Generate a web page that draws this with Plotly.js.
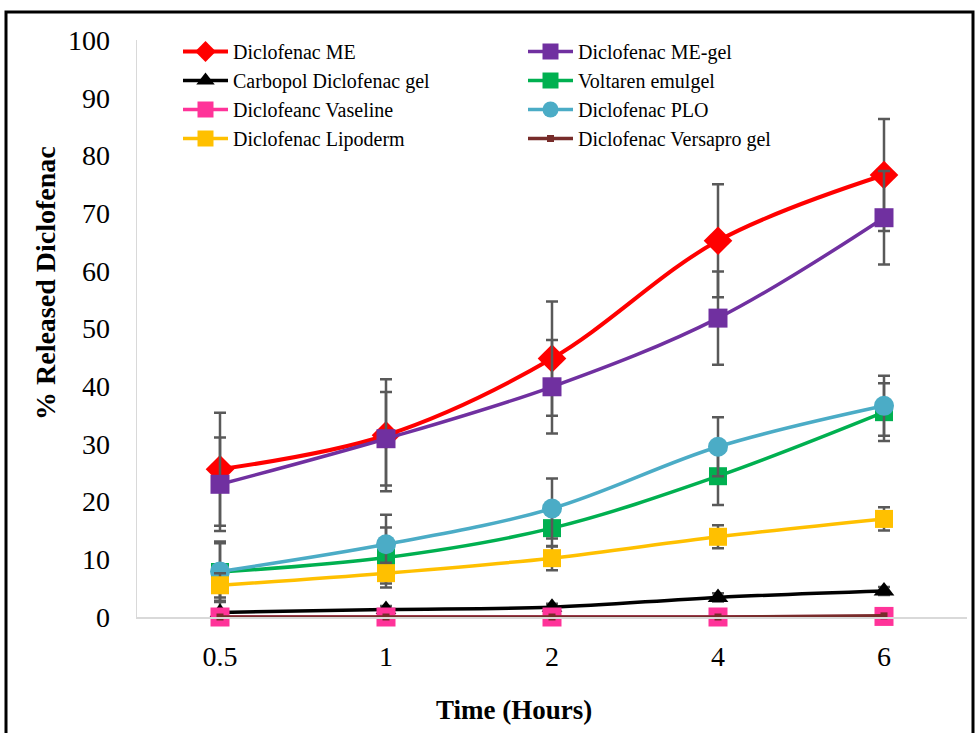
<!DOCTYPE html>
<html>
<head>
<meta charset="utf-8">
<script src="https://cdn.plot.ly/plotly-3.0.1.min.js"></script>
<style>
  html, body { margin: 0; padding: 0; background: #ffffff; }
  #chart { width: 975px; height: 733px; }
</style>
</head>
<body>
<div id="chart"></div>
<script>
// ---- Data ----
const timeLabels = ['0.5', '1', '2', '4', '6'];

const meValues       = [25.6, 31.5, 44.8, 65.2, 76.6];
const meErrors       = [9.8, 9.7, 9.9, 9.8, 9.7];

const meGelValues    = [23.0, 30.9, 39.9, 51.8, 69.2];
const meGelErrors    = [8.1, 8.1, 8.1, 8.1, 8.1];

const carbopolValues = [0.8, 1.3, 1.7, 3.4, 4.5];
const carbopolErrors = [1.8, 0.6, 0.6, 0.7, 0.7];

const voltarenValues = [7.8, 10.3, 15.4, 24.4, 35.5];
const voltarenErrors = [5.0, 5.2, 3.2, 5.0, 5.0];

const vaselineValues = [0, 0, 0, 0, 0.1];

const ploValues      = [7.9, 12.6, 18.8, 29.5, 36.6];
const ploErrors      = [5.2, 5.1, 5.2, 5.1, 5.2];

const lipodermValues = [5.5, 7.6, 10.2, 13.9, 17.0];
const lipodermErrors = [2.1, 1.8, 2.1, 2.0, 2.0];

const versaproValues = [0, 0, 0, 0, 0.2];

const seriesNames = [
  'Diclofenac ME', 'Diclofenac ME-gel', 'Carbopol Diclofenac gel', 'Voltaren emulgel',
  'Diclofeanc Vaseline', 'Diclofenac PLO', 'Diclofenac Lipoderm', 'Diclofenac Versapro gel'
];

// ---- Styling ----
const FONT = 'Liberation Serif, Times New Roman, serif';
const ERR_COLOR = '#595959';

function errBar(arr) {
  return { type: 'data', array: arr, visible: true, color: ERR_COLOR, thickness: 2.5, width: 6 };
}

function series(name, y, color, symbol, size, err, lineWidth) {
  const t = {
    type: 'scatter',
    mode: 'lines+markers',
    name: name,
    x: timeLabels,
    y: y,
    cliponaxis: false,
    line: { color: color, width: lineWidth || 3.5, shape: 'spline', smoothing: 1 },
    marker: { color: color, symbol: symbol, size: size }
  };
  if (err) t.error_y = errBar(err);
  return t;
}

const traces = [
  series(seriesNames[0], meValues, '#FF0000', 'diamond', 22, meErrors, 4),
  series(seriesNames[1], meGelValues, '#7030A0', 'square', 19, meGelErrors),
  series(seriesNames[2], carbopolValues, '#000000', 'triangle-up', 18, carbopolErrors),
  series(seriesNames[3], voltarenValues, '#00B050', 'square', 18, voltarenErrors),
  series(seriesNames[4], vaselineValues, '#FF3399', 'square', 19, null),
  series(seriesNames[5], ploValues, '#4BACC6', 'circle', 20, ploErrors),
  series(seriesNames[6], lipodermValues, '#FFC000', 'square', 18, lipodermErrors),
  series(seriesNames[7], versaproValues, '#772C2A', 'square', 7, null)
];

// plot area in pixels: left 137, right 967, top 40, bottom 617
const L = 137, R = 967, T = 40, B = 617;
const px = v => (v - L) / (R - L);
const py = v => (B - v) / (B - T);

const layout = {
  width: 975,
  height: 733,
  margin: { l: L, r: 975 - R, t: T, b: 733 - B, pad: 0 },
  paper_bgcolor: '#ffffff',
  plot_bgcolor: '#ffffff',
  font: { family: FONT, color: '#000000' },
  showlegend: true,
  legend: {
    orientation: 'h',
    x: px(178), xanchor: 'left',
    y: py(32), yanchor: 'top',
    itemwidth: 45,
    entrywidth: 285, entrywidthmode: 'pixels',
    font: { family: FONT, size: 20, color: '#000000' },
    bgcolor: 'rgba(0,0,0,0)',
    traceorder: 'normal'
  },
  xaxis: {
    type: 'category',
    range: [-0.5, 4.5],
    showgrid: false,
    zeroline: false,
    showline: true,
    linecolor: '#d9d9d9',
    linewidth: 1.5,
    ticks: '',
    ticklabelstandoff: 14,
    tickfont: { family: FONT, size: 28, color: '#000000' },
    fixedrange: true
  },
  yaxis: {
    range: [0, 100],
    dtick: 10,
    showgrid: false,
    zeroline: false,
    showline: true,
    linecolor: '#d9d9d9',
    linewidth: 1.5,
    ticks: '',
    ticklabelstandoff: 20,
    tickfont: { family: FONT, size: 28, color: '#000000' },
    fixedrange: true
  },
  annotations: [
    {
      text: '<b>Time (Hours)</b>',
      xref: 'paper', yref: 'paper',
      x: px(514), y: py(710),
      xanchor: 'center', yanchor: 'middle',
      showarrow: false,
      font: { family: FONT, size: 27, color: '#000000' }
    },
    {
      text: '<b>% Released Diclofenac</b>',
      xref: 'paper', yref: 'paper',
      x: px(45), y: py(283),
      xanchor: 'center', yanchor: 'middle',
      textangle: -90,
      showarrow: false,
      font: { family: FONT, size: 28, color: '#000000' }
    }
  ],
  shapes: [
    {
      type: 'rect', xref: 'paper', yref: 'paper',
      x0: px(6), x1: px(973), y0: py(760), y1: py(12),
      line: { color: '#000000', width: 3 },
      fillcolor: 'rgba(0,0,0,0)',
      layer: 'above'
    }
  ]
};

Plotly.newPlot('chart', traces, layout, { displayModeBar: false, staticPlot: true });
</script>
</body>
</html>
